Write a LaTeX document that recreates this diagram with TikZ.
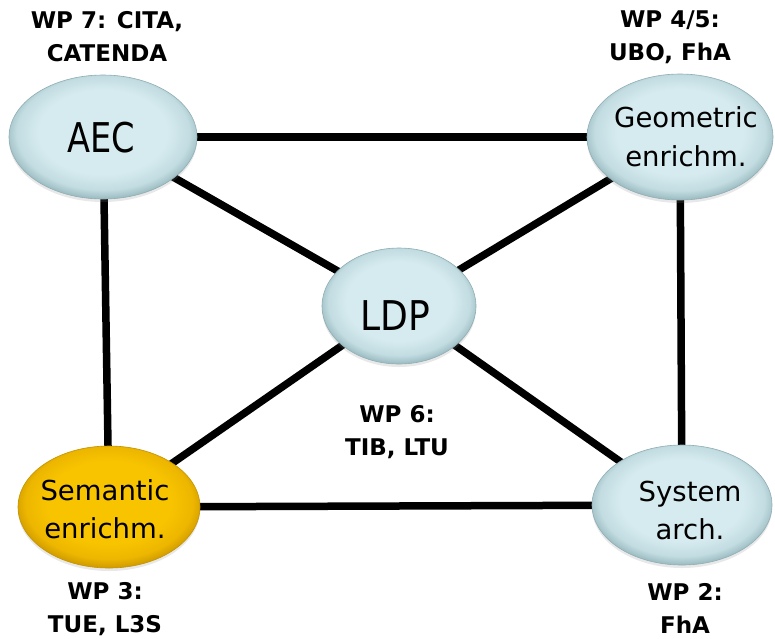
\documentclass[tikz,border=0pt]{standalone}
\usepackage{fontspec}
\setmainfont{DejaVu Sans}
\newfontfamily\aecfont{DejaVu Sans}[FakeStretch=0.82]
\newfontfamily\ldpfont{DejaVu Sans}[FakeStretch=0.88]
\usetikzlibrary{shapes.geometric,backgrounds,shadows}
\definecolor{bluein}{HTML}{D6EBEF}
\definecolor{bluemid}{HTML}{C2DCE1}
\definecolor{blueout}{HTML}{9EBEC4}
\definecolor{blueedge}{HTML}{8FAEB4}
\definecolor{goldin}{HTML}{F8C400}
\definecolor{goldmid}{HTML}{EDB600}
\definecolor{goldout}{HTML}{D29E00}
\definecolor{goldedge}{HTML}{C49200}
\pgfdeclareradialshading{bluebevel}{\pgfpoint{0bp}{3bp}}{color(0bp)=(bluein); color(17bp)=(bluein); color(23bp)=(bluemid); color(26bp)=(blueout); color(50bp)=(blueout)}
\pgfdeclareradialshading{goldbevel}{\pgfpoint{0bp}{3bp}}{color(0bp)=(goldin); color(17bp)=(goldin); color(23bp)=(goldmid); color(26bp)=(goldout); color(50bp)=(goldout)}
\tikzset{
  wpnode/.style={shape=ellipse, inner sep=0pt, draw=blueedge, line width=0.6pt,
    shading=bluebevel,
    drop shadow={shadow xshift=0pt, shadow yshift=-3pt, opacity=0.18}},
  goldnode/.style={wpnode, draw=goldedge, shading=goldbevel},
  nodetext/.style={align=center, inner sep=0pt, text=black},
  wplabel/.style={align=center, inner sep=0pt, text=black,
    font=\bfseries\fontsize{23}{33}\selectfont},
  link/.style={line width=7.5pt, black}
}
\begin{document}
\begin{tikzpicture}[x=1pt,y=-1pt]
\useasboundingbox (0,0) rectangle (775,638);
% ellipses
\node[wpnode, minimum width=188pt, minimum height=124pt] (aec) at (103,137) {};
\node[wpnode, minimum width=186pt, minimum height=126pt] (geo) at (680,137) {};
\node[wpnode, minimum width=154pt, minimum height=116pt] (ldp) at (399,306) {};
\node[goldnode, minimum width=182pt, minimum height=122pt] (sem) at (109,507) {};
\node[wpnode, minimum width=180pt, minimum height=120pt] (sys) at (682,505) {};
% connectors
\begin{pgfonlayer}{background}
\draw[link] (aec.center) -- (geo.center);
\draw[link] (aec.center) -- (ldp.center);
\draw[link] (aec.center) -- (sem.center);
\draw[link] (geo.center) -- (ldp.center);
\draw[link] (geo.center) -- (sys.center);
\draw[link] (ldp.center) -- (sem.center);
\draw[link] (ldp.center) -- (sys.center);
\draw[link] (sem.center) -- (sys.center);
\end{pgfonlayer}
% node texts
\node[nodetext, font=\aecfont\fontsize{41}{49}\selectfont] (aecT) at (101,137.5) {AEC};
\node[nodetext, font=\ldpfont\fontsize{41}{49}\selectfont] (ldpT) at (395,315.5) {LDP};
\node[nodetext, font=\fontsize{27.5}{39}\selectfont] (geoT) at (686,137) {Geometric\\enrichm.};
\node[nodetext, font=\fontsize{27.5}{38}\selectfont] (sysT) at (690,510) {System\\arch.};
\node[nodetext, font=\fontsize{27.5}{38}\selectfont] (semT) at (105,509) {Semantic\\enrichm.};
% work package labels
\node[wplabel] (lab7) at (107,37) {WP 7: CITA,\\CATENDA};
\node[wplabel] (lab45) at (670,37) {WP 4/5:\\UBO, FhA};
\node[wplabel] (lab6) at (397,432) {WP 6:\\TIB, LTU};
\node[wplabel] (lab3) at (105,609) {WP 3:\\TUE, L3S};
\node[wplabel] (lab2) at (685,608) {WP 2:\\FhA};
\end{tikzpicture}
\end{document}
